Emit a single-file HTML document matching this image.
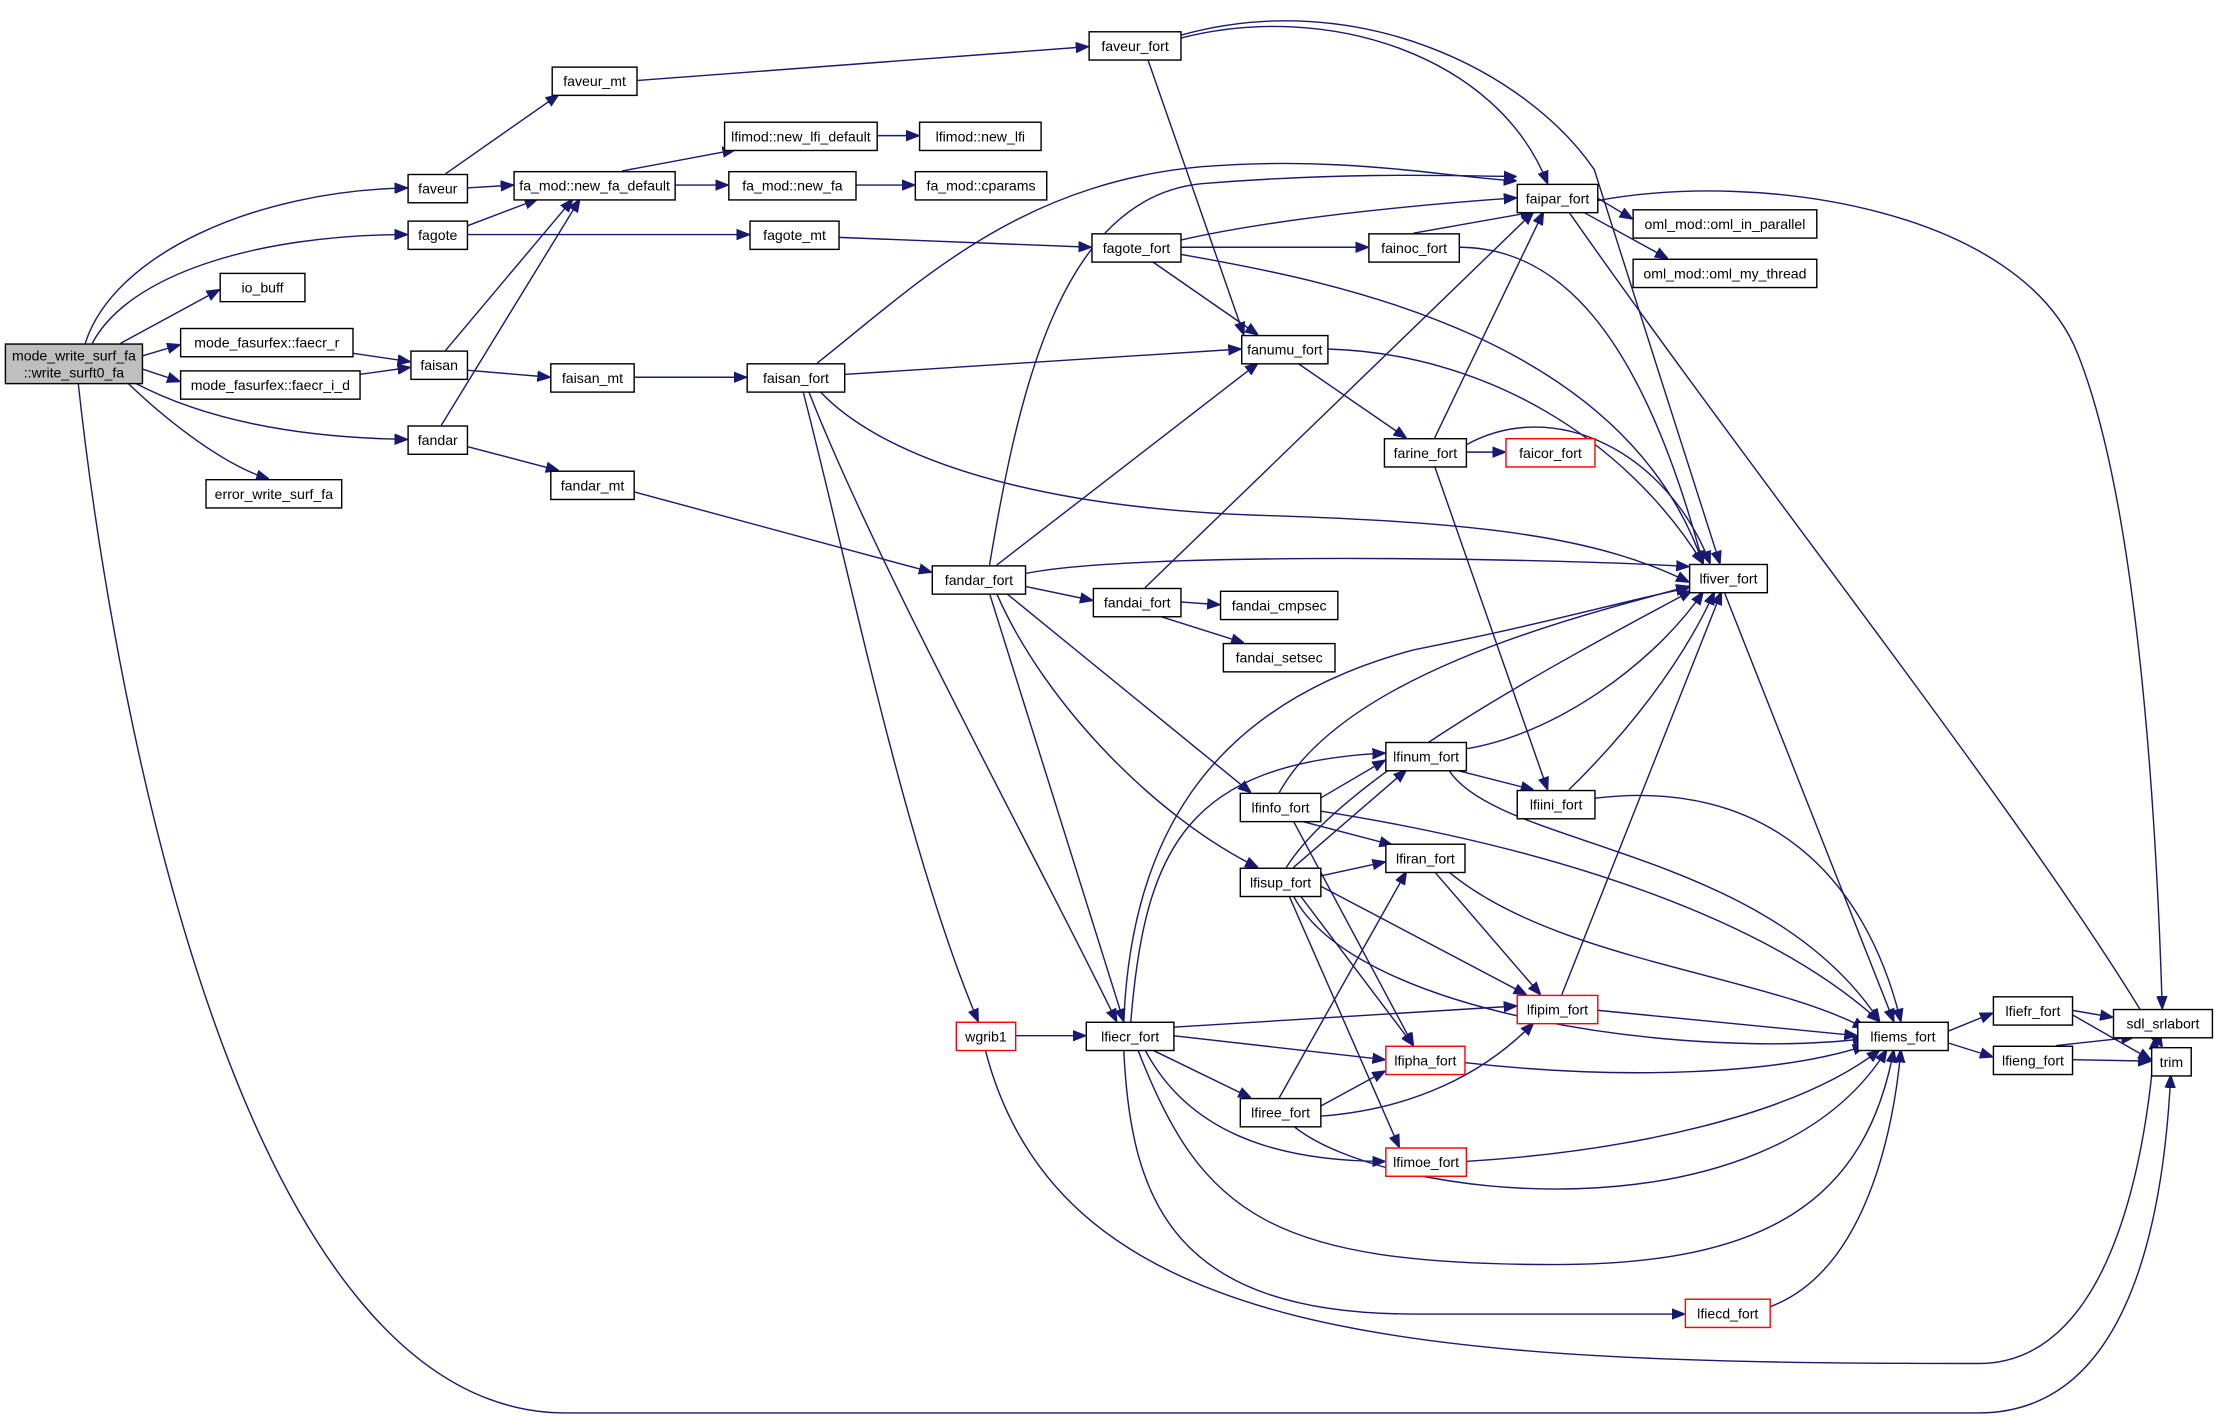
<!DOCTYPE html>
<html><head><meta charset="utf-8"><style>
html,body{margin:0;padding:0;background:#fff;}
svg{display:block;}
text{font-family:"Liberation Sans",sans-serif;font-size:10px;text-anchor:middle;fill:#000;}
.e{fill:none;stroke:#191970;stroke-width:1;marker-end:url(#a);}
.n{fill:#fff;stroke:#000;stroke-width:1;}
.r{fill:#fff;stroke:#ff0000;stroke-width:1;}
</style></head><body>
<svg width="2215" height="1420" viewBox="0 0 1567 1005" xmlns="http://www.w3.org/2000/svg">
<defs><marker id="a" markerWidth="9" markerHeight="8" refX="9" refY="4" orient="auto" markerUnits="userSpaceOnUse"><path d="M0,0.5 L9,4 L0,7.5 z" fill="#191970" stroke="#191970"/></marker></defs>
<g>
<path class="e" d="M60,243 C80,180 180,135 288,133"/>
<path class="e" d="M65,243 C90,195 180,166 288,166"/>
<path class="e" d="M85,243 L155,205"/>
<path class="e" d="M100,252 L127,244"/>
<path class="e" d="M100,261 L127,270"/>
<path class="e" d="M95,271 C150,300 220,310 288,311"/>
<path class="e" d="M90,271 C120,300 160,330 190,339"/>
<path class="e" d="M55,271 C80,500 170,1000 400,1000 L1400,1000 C1500,1000 1530,880 1536,761"/>
<path class="e" d="M315,123 L395,67"/>
<path class="e" d="M330,133 L363,131"/>
<path class="e" d="M330,160 L380,141"/>
<path class="e" d="M330,166 L530,166"/>
<path class="e" d="M249,250 L290,256"/>
<path class="e" d="M254,265 L290,260"/>
<path class="e" d="M315,248 L405,141"/>
<path class="e" d="M330,262 L389,267"/>
<path class="e" d="M312,301 L410,141"/>
<path class="e" d="M330,316 L395,333"/>
<path class="e" d="M450,57 L770,33"/>
<path class="e" d="M593,168 L772,175"/>
<path class="e" d="M448,267 L528,267"/>
<path class="e" d="M448,348 L659,405"/>
<path class="e" d="M440,121 L520,106"/>
<path class="e" d="M477,131 L515,131"/>
<path class="e" d="M620,96 L650,96"/>
<path class="e" d="M605,131 L647,131"/>
<path class="e" d="M835,27 C940,0 1060,40 1095,130"/>
<path class="e" d="M835,25 C960,-10 1080,50 1128,120 C1150,190 1195,330 1217,399"/>
<path class="e" d="M812,42 L880,237"/>
<path class="e" d="M578,257 C650,200 720,130 850,118 C950,110 1020,125 1073,128"/>
<path class="e" d="M597,265 L878,247"/>
<path class="e" d="M580,277 C620,320 720,360 900,365 C1050,370 1130,380 1195,412"/>
<path class="e" d="M572,277 C620,400 730,600 790,723"/>
<path class="e" d="M568,277 C600,400 640,600 692,723"/>
<path class="e" d="M835,170 C900,155 1000,145 1073,140"/>
<path class="e" d="M835,175 L968,175"/>
<path class="e" d="M815,185 L890,237"/>
<path class="e" d="M835,180 C950,200 1150,240 1205,399"/>
<path class="e" d="M700,400 C720,280 750,140 850,130 C950,122 1020,124 1073,125"/>
<path class="e" d="M705,400 L890,257"/>
<path class="e" d="M725,406 C800,390 1100,395 1195,401"/>
<path class="e" d="M725,415 L773,425"/>
<path class="e" d="M712,420 L885,561"/>
<path class="e" d="M705,420 C740,500 820,580 890,614"/>
<path class="e" d="M700,420 L795,723"/>
<path class="e" d="M1130,140 L1155,155"/>
<path class="e" d="M1120,150 L1180,183"/>
<path class="e" d="M1130,142 C1250,120 1430,150 1470,250 C1510,350 1525,550 1530,714"/>
<path class="e" d="M1110,150 C1250,350 1450,600 1530,741"/>
<path class="e" d="M1000,165 L1085,150"/>
<path class="e" d="M1032,175 C1100,175 1160,230 1205,399"/>
<path class="e" d="M939,247 C1050,250 1150,310 1205,399"/>
<path class="e" d="M918,257 L995,310"/>
<path class="e" d="M1015,310 L1092,150"/>
<path class="e" d="M1037,320 L1065,320"/>
<path class="e" d="M1037,315 C1100,280 1180,320 1210,399"/>
<path class="e" d="M1015,330 L1095,559"/>
<path class="e" d="M810,416 L1085,150"/>
<path class="e" d="M835,426 L863,428"/>
<path class="e" d="M820,436 L880,455"/>
<path class="e" d="M1220,419 L1340,723"/>
<path class="e" d="M905,561 C950,480 1100,440 1195,415"/>
<path class="e" d="M934,565 L980,538"/>
<path class="e" d="M920,581 L985,598"/>
<path class="e" d="M915,581 L1000,740"/>
<path class="e" d="M934,574 C1100,600 1250,650 1330,723"/>
<path class="e" d="M910,614 C950,550 1100,470 1197,418"/>
<path class="e" d="M915,614 L995,545"/>
<path class="e" d="M934,620 L980,610"/>
<path class="e" d="M934,627 L1080,704"/>
<path class="e" d="M920,634 L1000,740"/>
<path class="e" d="M912,634 L990,812"/>
<path class="e" d="M915,634 C960,720 1200,750 1320,735"/>
<path class="e" d="M1037,530 C1100,520 1170,470 1205,419"/>
<path class="e" d="M1030,545 L1085,559"/>
<path class="e" d="M1025,545 C1060,600 1250,600 1330,723"/>
<path class="e" d="M1110,559 C1150,520 1190,470 1213,419"/>
<path class="e" d="M1128,565 C1250,550 1320,620 1345,723"/>
<path class="e" d="M1015,617 L1090,704"/>
<path class="e" d="M1025,617 C1100,680 1250,690 1320,728"/>
<path class="e" d="M1105,704 L1218,419"/>
<path class="e" d="M1130,715 L1314,733"/>
<path class="e" d="M795,723 C800,600 850,500 1000,460 C1100,440 1150,425 1195,416"/>
<path class="e" d="M800,723 C810,600 840,540 980,533"/>
<path class="e" d="M830,727 L1073,712"/>
<path class="e" d="M830,733 L980,750"/>
<path class="e" d="M815,743 L885,777"/>
<path class="e" d="M810,743 C840,800 900,822 980,822"/>
<path class="e" d="M805,743 C850,860 900,895 1100,895 C1250,895 1320,850 1340,743"/>
<path class="e" d="M795,743 C800,850 830,930 1000,930 L1192,930"/>
<path class="e" d="M718,733 L768,733"/>
<path class="e" d="M697,743 C750,950 1000,965 1400,965 C1500,965 1520,800 1525,734"/>
<path class="e" d="M1036,752 C1150,765 1260,760 1320,740"/>
<path class="e" d="M905,777 L995,617"/>
<path class="e" d="M934,783 L980,758"/>
<path class="e" d="M934,790 C1000,785 1050,760 1085,724"/>
<path class="e" d="M915,797 C980,850 1250,880 1335,743"/>
<path class="e" d="M1037,822 C1150,815 1270,790 1330,743"/>
<path class="e" d="M1252,925 C1320,900 1340,800 1345,743"/>
<path class="e" d="M1378,730 L1410,717"/>
<path class="e" d="M1378,738 L1410,748"/>
<path class="e" d="M1466,715 L1495,720"/>
<path class="e" d="M1466,718 L1522,750"/>
<path class="e" d="M1455,740 L1510,734"/>
<path class="e" d="M1466,750 L1522,751"/>
</g>
<g>
<rect x="3.5" y="243.5" width="97" height="28" fill="#bfbfbf" stroke="#000"/>
<text x="52" y="255">mode_write_surf_fa</text><text x="52" y="267">::write_surft0_fa</text>
<rect class="n" x="288.5" y="123.5" width="42" height="20"/><text x="309.5" y="137">faveur</text>
<rect class="n" x="288.5" y="156.5" width="42" height="20"/><text x="309.5" y="170">fagote</text>
<rect class="n" x="155.5" y="193.5" width="60" height="20"/><text x="185.5" y="207">io_buff</text>
<rect class="n" x="127.5" y="232.5" width="122" height="20"/><text x="188.5" y="246">mode_fasurfex::faecr_r</text>
<rect class="n" x="127.5" y="262.5" width="127" height="20"/><text x="191" y="276">mode_fasurfex::faecr_i_d</text>
<rect class="n" x="290.5" y="248.5" width="40" height="20"/><text x="310.5" y="262">faisan</text>
<rect class="n" x="288.5" y="301.5" width="42" height="20"/><text x="309.5" y="315">fandar</text>
<rect class="n" x="145.5" y="339.5" width="96" height="20"/><text x="193.5" y="353">error_write_surf_fa</text>
<rect class="n" x="390.5" y="47.5" width="60" height="20"/><text x="420.5" y="61">faveur_mt</text>
<rect class="n" x="363.5" y="121.5" width="114" height="20"/><text x="420.5" y="135">fa_mod::new_fa_default</text>
<rect class="n" x="512.5" y="86.5" width="108" height="20"/><text x="566.5" y="100">lfimod::new_lfi_default</text>
<rect class="n" x="650.5" y="86.5" width="86" height="20"/><text x="693.5" y="100">lfimod::new_lfi</text>
<rect class="n" x="515.5" y="121.5" width="90" height="20"/><text x="560.5" y="135">fa_mod::new_fa</text>
<rect class="n" x="647.5" y="121.5" width="93" height="20"/><text x="694" y="135">fa_mod::cparams</text>
<rect class="n" x="530.5" y="156.5" width="63" height="20"/><text x="562" y="170">fagote_mt</text>
<rect class="n" x="389.5" y="257.5" width="59" height="20"/><text x="419" y="271">faisan_mt</text>
<rect class="n" x="389.5" y="333.5" width="59" height="20"/><text x="419" y="347">fandar_mt</text>
<rect class="n" x="770.5" y="22.5" width="65" height="20"/><text x="803" y="36">faveur_fort</text>
<rect class="n" x="528.5" y="257.5" width="69" height="20"/><text x="563" y="271">faisan_fort</text>
<rect class="n" x="772.5" y="165.5" width="63" height="20"/><text x="804" y="179">fagote_fort</text>
<rect class="n" x="659.5" y="400.5" width="66" height="20"/><text x="692.5" y="414">fandar_fort</text>
<rect class="n" x="1073.5" y="130.5" width="57" height="20"/><text x="1102" y="144">faipar_fort</text>
<rect class="n" x="1155.5" y="148.5" width="130" height="20"/><text x="1220.5" y="162">oml_mod::oml_in_parallel</text>
<rect class="n" x="1155.5" y="183.5" width="130" height="20"/><text x="1220.5" y="197">oml_mod::oml_my_thread</text>
<rect class="n" x="968.5" y="165.5" width="64" height="20"/><text x="1000.5" y="179">fainoc_fort</text>
<rect class="n" x="878.5" y="237.5" width="61" height="20"/><text x="909" y="251">fanumu_fort</text>
<rect class="n" x="979.5" y="310.5" width="58" height="20"/><text x="1008.5" y="324">farine_fort</text>
<rect class="r" x="1065.5" y="310.5" width="63" height="20"/><text x="1097" y="324">faicor_fort</text>
<rect class="n" x="1195.5" y="399.5" width="55" height="20"/><text x="1223" y="413">lfiver_fort</text>
<rect class="n" x="773.5" y="416.5" width="62" height="20"/><text x="804.5" y="430">fandai_fort</text>
<rect class="n" x="863.5" y="418.5" width="83" height="20"/><text x="905" y="432">fandai_cmpsec</text>
<rect class="n" x="865.5" y="455.5" width="79" height="20"/><text x="905" y="469">fandai_setsec</text>
<rect class="n" x="980.5" y="525.5" width="57" height="20"/><text x="1009" y="539">lfinum_fort</text>
<rect class="n" x="1073.5" y="559.5" width="55" height="20"/><text x="1101" y="573">lfiini_fort</text>
<rect class="n" x="877.5" y="561.5" width="57" height="20"/><text x="906" y="575">lfinfo_fort</text>
<rect class="n" x="980.5" y="597.5" width="56" height="20"/><text x="1008.5" y="611">lfiran_fort</text>
<rect class="n" x="877.5" y="614.5" width="57" height="20"/><text x="906" y="628">lfisup_fort</text>
<rect class="r" x="1073.5" y="704.5" width="57" height="20"/><text x="1102" y="718">lfipim_fort</text>
<rect class="n" x="768.5" y="723.5" width="62" height="20"/><text x="799.5" y="737">lfiecr_fort</text>
<rect class="r" x="676.5" y="723.5" width="42" height="20"/><text x="697.5" y="737">wgrib1</text>
<rect class="r" x="980.5" y="740.5" width="56" height="20"/><text x="1008.5" y="754">lfipha_fort</text>
<rect class="n" x="1314.5" y="723.5" width="64" height="20"/><text x="1346.5" y="737">lfiems_fort</text>
<rect class="n" x="1410.5" y="705.5" width="56" height="20"/><text x="1438.5" y="719">lfiefr_fort</text>
<rect class="n" x="1410.5" y="740.5" width="56" height="20"/><text x="1438.5" y="754">lfieng_fort</text>
<rect class="n" x="1495.5" y="714.5" width="70" height="20"/><text x="1530.5" y="728">sdl_srlabort</text>
<rect class="n" x="1522.5" y="741.5" width="28" height="20"/><text x="1536.5" y="755">trim</text>
<rect class="n" x="877.5" y="777.5" width="57" height="20"/><text x="906" y="791">lfiree_fort</text>
<rect class="r" x="980.5" y="812.5" width="57" height="20"/><text x="1009" y="826">lfimoe_fort</text>
<rect class="r" x="1192.5" y="919.5" width="60" height="20"/><text x="1222.5" y="933">lfiecd_fort</text>
</g>
</svg>
</body></html>
